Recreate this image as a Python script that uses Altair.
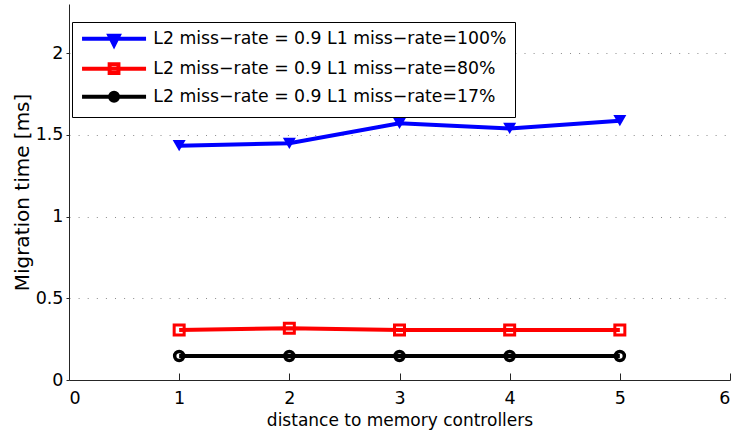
import altair as alt
import pandas as pd

# Distance (hops) to the memory controllers
distance = [1, 2, 3, 4, 5]

series_names = [
    "L2 miss−rate = 0.9 L1 miss−rate=100%",
    "L2 miss−rate = 0.9 L1 miss−rate=80%",
    "L2 miss−rate = 0.9 L1 miss−rate=17%",
]

# Migration time in milliseconds for each configuration
time_l1_100 = [1.433, 1.448, 1.570, 1.539, 1.586]
time_l1_80 = [0.306, 0.316, 0.306, 0.306, 0.306]
time_l1_17 = [0.147, 0.147, 0.147, 0.147, 0.147]

series_colors = ["#0000ff", "#ff0000", "#000000"]
marker_shapes = ["triangle-down", "square", "circle"]
marker_filled = [True, False, False]
marker_sizes = [169, 100, 81]
marker_strokes = [1.5, 3, 3.5]

x_ticks = [0, 1, 2, 3, 4, 5, 6]
y_ticks = [0, 0.5, 1, 1.5, 2]

rows = []
for name, values in zip(series_names, [time_l1_100, time_l1_80, time_l1_17]):
    for d, t in zip(distance, values):
        rows.append({"series": name, "distance": d, "time": t})
df = pd.DataFrame(rows)

FONT = "DejaVu Sans"
AXIS_COLOR = "#262626"

# Legend symbols: a line segment with the series marker on top of it
line_seg = "M-1.65,0H14.35"
legend_paths = [
    line_seg + "M5.19,-0.75L7.51,-0.75L6.35,1.6Z",
    line_seg + "M5.25,-1.1H7.45V1.1H5.25Z",
    line_seg + "M5.35,0A1,1 0 1,0 7.35,0A1,1 0 1,0 5.35,0Z",
]
legend_fills = ["#0000ff", "white", "#000000"]


def pick(options):
    return (
        f"indexof(datum.value, '=100%') >= 0 ? '{options[0]}' : "
        f"(indexof(datum.value, '=80%') >= 0 ? '{options[1]}' : '{options[2]}')"
    )


color_scale = alt.Scale(domain=series_names, range=series_colors)
x_scale = alt.Scale(domain=[0, 6], nice=False, zero=False)
y_scale = alt.Scale(domain=[0, 2.3], nice=False)

y_axis = alt.Axis(
    values=y_ticks,
    title="Migration time [ms]",
    titleFontSize=20,
    format="~g",
    tickSize=3,
    labelPadding=3,
    titlePadding=3,
    grid=True,
    gridDash=[1, 8.1],
    gridColor="#8a8a8a",
    gridWidth=1,
)

base = alt.Chart(df)

lines = base.mark_line(strokeWidth=4).encode(
    x=alt.X(
        "distance:Q",
        scale=x_scale,
        axis=alt.Axis(
            values=x_ticks,
            title="distance to memory controllers",
            orient="bottom",
            ticks=False,
            tickSize=0,
            grid=False,
            labelPadding=9,
            titlePadding=6,
            format="~g",
        ),
    ),
    y=alt.Y("time:Q", scale=y_scale, axis=y_axis),
    color=alt.Color(
        "series:N",
        scale=color_scale,
        sort=series_names,
        legend=alt.Legend(
            title=None,
            orient="none",
            legendX=3,
            legendY=18,
            direction="vertical",
            labelFont=FONT,
            labelFontSize=17.3,
            labelColor="black",
            labelLimit=0,
            labelOffset=56,
            symbolSize=64,
            symbolStrokeWidth=4,
            symbolOpacity=1,
            symbolType=alt.ExprRef(expr=pick(legend_paths)),
            symbolFillColor=alt.ExprRef(expr=pick(legend_fills)),
            rowPadding=2,
            padding=8,
            strokeColor="black",
            fillColor="white",
        ),
    ),
    order="distance:Q",
)

# Inward tick marks along the bottom axis
tick_axis = alt.Axis(
    values=[1, 2, 3, 4, 5, 6],
    title=None,
    orient="bottom",
    labels=False,
    domain=False,
    grid=False,
    ticks=True,
    tickSize=7,
    offset=-7,
)

marker_layers = []
for i, name in enumerate(series_names):
    marker_layers.append(
        base.transform_filter(alt.datum.series == name)
        .mark_point(
            shape=marker_shapes[i],
            filled=marker_filled[i],
            color=series_colors[i],
            size=marker_sizes[i],
            strokeWidth=marker_strokes[i],
            opacity=1,
        )
        .encode(
            x=alt.X("distance:Q", scale=x_scale, axis=tick_axis if i == 0 else None),
            y=alt.Y("time:Q", scale=y_scale, axis=y_axis),
        )
    )

chart = (
    alt.layer(lines, *marker_layers)
    .resolve_axis(x="independent")
    .properties(
        width=661,
        height=376,
        autosize=alt.AutoSizeParams(type="none"),
        padding={"left": 69, "top": 4, "right": 7, "bottom": 56},
        background="white",
    )
    .configure_view(stroke=None)
    .configure_axis(
        labelFont=FONT,
        labelFontSize=17.5,
        labelColor="black",
        titleFont=FONT,
        titleFontSize=17,
        titleFontWeight="normal",
        titleColor="black",
        domainColor=AXIS_COLOR,
        tickColor=AXIS_COLOR,
        domainWidth=1,
        tickWidth=1,
    )
)

chart.save("out.html", embed_options={"renderer": "svg", "actions": False})
